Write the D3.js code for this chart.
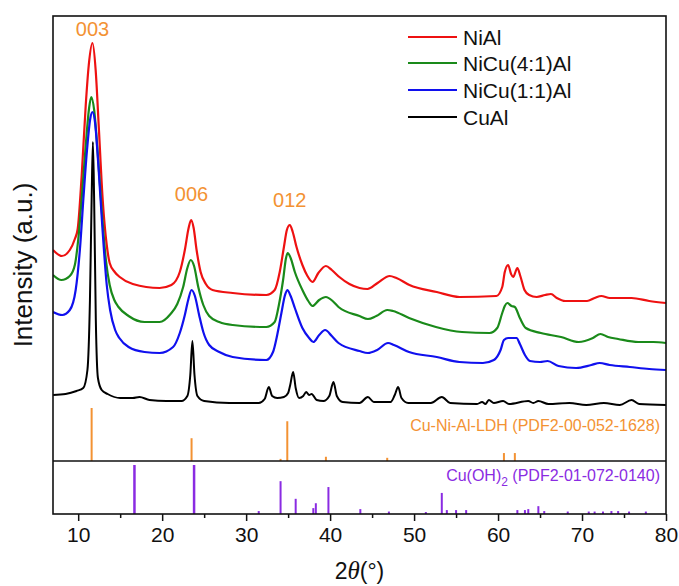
<!DOCTYPE html>
<html>
<head>
<meta charset="utf-8">
<script src="https://cdn.jsdelivr.net/npm/d3@7"></script>
<style>
  html, body { margin: 0; padding: 0; background: #fff; }
  svg { display: block; font-family: Arial, "Liberation Sans", Helvetica, sans-serif; }
</style>
</head>
<body>
<svg id="chart" width="679" height="586"></svg>
<script>
// ---------- DATA (2θ in degrees, intensity in arbitrary units) ----------
const seriesNames = ["NiAl", "NiCu(4:1)Al", "NiCu(1:1)Al", "CuAl"];

const niAl = [
  [7.0,211],[8.04,205],[9.0,211],[9.6,222],[9.94,232],[10.42,286],[10.9,356],[11.26,396],[11.7,418],
  [12.08,391],[12.44,336],[12.92,261],[13.4,216],[13.75,198],[14.35,189],[14.95,184],[16.5,177],
  [19.7,173],[21.1,176],[22.1,189],[22.7,211],[23.15,233],[23.45,241],[23.75,233],[24.1,211],
  [24.58,189],[25.2,177],[26.0,171],[28.4,168],[32.4,166],[33.4,171],[34.0,189],[34.5,214],
  [34.85,231],[35.2,236],[35.55,229],[36.0,214],[36.7,196],[37.3,185],[37.9,179],[38.6,188],
  [39.5,195],[40.2,191],[41.1,184],[42.3,177],[43.5,173],[44.45,172],[45.65,178],[47.1,185],
  [47.9,183],[49.45,176],[52.7,169],[55.4,164],[59.8,165],[60.5,174],[60.8,189],[61.2,196],
  [61.55,187],[61.8,184],[62.3,193],[62.65,185],[63.15,171],[63.7,166],[64.6,164],[65.6,166],
  [66.3,167],[67.0,163],[68.0,160],[70.6,160],[71.5,163],[72.3,165],[73.3,163],[75.9,163],
  [78.0,160],[80.0,158]
];

const niCu41Al = [
  [7.0,186],[8.0,181],[9.0,185],[9.6,196],[10.0,221],[10.45,266],[10.9,316],[11.3,353],[11.55,364],
  [11.9,351],[12.3,311],[12.8,251],[13.3,201],[13.75,176],[14.3,161],[14.8,154],[16.0,145],
  [17.9,139],[19.7,139],[21.0,147],[21.8,157],[22.5,174],[23.0,193],[23.4,201],[23.8,195],
  [24.3,174],[24.9,156],[25.6,145],[26.8,139],[28.4,136],[32.4,134],[33.4,139],[33.9,156],
  [34.4,181],[34.75,203],[34.95,208],[35.3,203],[35.8,189],[36.7,171],[37.4,160],[37.9,155],
  [38.7,161],[39.5,164],[40.3,160],[41.0,154],[43.5,145],[44.5,142],[45.5,145],[46.8,151],
  [47.5,150],[49.4,143],[52.6,134],[55.7,129],[59.0,128],[59.9,133],[60.5,148],[60.8,155],
  [61.1,158],[61.6,155],[62.0,154],[62.6,143],[63.3,133],[65.1,128],[67.5,124],[69.6,119],
  [71.3,123],[72.2,127],[73.1,124],[74.3,122],[76.7,119],[78.5,119],[80.0,118]
];

const niCu11Al = [
  [7.0,149],[8.1,146],[9.0,151],[9.7,171],[10.2,211],[10.65,266],[11.05,311],[11.45,343],[11.7,349],
  [12.0,339],[12.4,296],[12.9,231],[13.4,176],[13.8,151],[14.4,131],[14.9,123],[16.0,114],
  [17.9,109],[19.7,108],[21.3,114],[22.1,128],[22.7,146],[23.1,161],[23.5,171],[23.9,165],
  [24.4,146],[24.9,129],[25.6,116],[26.8,109],[28.4,104],[32.4,101],[33.2,109],[33.7,126],
  [34.2,148],[34.6,165],[34.9,171],[35.3,165],[35.8,153],[36.7,133],[37.5,123],[38.0,119],
  [38.7,126],[39.4,131],[40.2,125],[41.0,118],[43.5,110],[44.5,108],[45.6,111],[46.9,118],
  [47.6,116],[49.4,109],[52.7,104],[55.4,99],[58.2,98],[59.5,101],[60.3,111],[60.7,121],
  [61.2,123],[62.2,123],[62.6,117],[63.2,106],[63.8,100],[65.0,99],[65.9,100],[67.2,95],
  [69.3,93],[71.1,96],[72.1,98],[73.3,96],[75.7,94],[78.0,92],[80.0,91]
];

const cuAl = [
  [7.0,66],[8.5,67],[9.8,70],[10.6,73],[11.1,91],[11.4,161],[11.6,261],[11.75,319],[11.9,261],
  [12.1,141],[12.35,83],[12.8,71],[13.5,67],[15.0,63],[16.5,63],[17.3,64],[18.5,61],[20.5,60],
  [22.3,60],[23.0,65],[23.35,86],[23.6,120],[23.85,86],[24.2,65],[25.0,60],[28.0,58],[31.5,58],
  [32.2,62],[32.7,74],[33.1,65],[33.7,63],[34.5,64],[35.0,68],[35.25,76],[35.6,89],[35.9,73],
  [36.3,63],[36.8,65],[37.15,69],[37.5,66],[37.8,67],[38.4,61],[39.2,60],[39.9,65],[40.4,79],
  [40.8,65],[41.5,59],[43.5,58],[44.5,64],[45.2,59],[47.2,59],[47.7,66],[48.1,74],[48.5,63],
  [49.3,58],[52.0,58],[53.3,64],[54.3,58],[57.5,57],[58.1,59],[58.5,57],[58.9,61],[59.5,58],
  [60.6,60],[61.3,57],[63.6,60],[64.2,58],[64.8,60],[66.0,57],[68.5,58],[70.5,56],[72.6,58],
  [74.5,56],[75.9,61],[76.8,57],[80.0,56]
];

// Reference patterns: [2θ, relative intensity]
const ldhRef = [[11.6,100],[23.5,43],[34.1,4],[34.9,75],[39.5,8],[46.8,6],[60.7,15],[62.0,15]];
const cuOH2Ref = [
  [16.7,100],[23.8,100],[31.5,6],[34.1,67],[35.9,31],[38.0,12],[38.3,22],[39.8,55],[43.6,10],
  [47.0,5],[51.4,4],[53.3,43],[53.9,8],[55.0,8],[56.2,8],[62.3,8],[63.2,8],[63.6,10],[64.8,16],
  [65.5,6],[68.3,5],[70.8,5],[71.5,5],[72.5,5],[73.5,6],[74.3,6],[75.6,5],[77.6,5]
];

// peak labels: text, 2θ, intensity position of label baseline
const peakLabels = [["003",11.7,425],["006",23.5,260],["012",35.2,254]];
const xTicks = [10,20,30,40,50,60,70,80];
const xMinorTicks = [15,25,35,45,55,65,75];

// ---------- LAYOUT ----------
const L = 53, R = 666, T = 16, SEP = 461, B = 514;
const colors = ["#ee1111", "#1a8a1a", "#1010ee", "#000000"];
const orange = "#f39233", purple = "#8a2be2";

const svg = d3.select("#chart");
const x = d3.scaleLinear().domain([7, 80]).range([L, R]);
const y = d3.scaleLinear().domain([0, 445]).range([SEP, T]);
const yLdh = d3.scaleLinear().domain([0, 100]).range([SEP, SEP - 53]);
const yCu = d3.scaleLinear().domain([0, 100]).range([B, B - 49]);

svg.append("clipPath").attr("id", "clip").append("rect")
  .attr("x", L).attr("y", T).attr("width", R - L).attr("height", SEP - T);

const line = d3.line().x(d => x(d[0])).y(d => y(d[1])).curve(d3.curveMonotoneX);
const allSeries = [niAl, niCu41Al, niCu11Al, cuAl];

const g = svg.append("g").attr("clip-path", "url(#clip)");
allSeries.forEach((s, i) => {
  g.append("path").datum(s)
    .attr("d", line).attr("fill", "none")
    .attr("stroke", colors[i]).attr("stroke-width", i === 3 ? 2 : 2.2)
    .attr("stroke-linejoin", "round");
});

// reference sticks
svg.append("g").selectAll("line").data(ldhRef).join("line")
  .attr("x1", d => x(d[0])).attr("x2", d => x(d[0]))
  .attr("y1", yLdh(0)).attr("y2", d => yLdh(d[1]))
  .attr("stroke", orange).attr("stroke-width", 2);

svg.append("g").selectAll("line").data(cuOH2Ref).join("line")
  .attr("x1", d => x(d[0])).attr("x2", d => x(d[0]))
  .attr("y1", yCu(0)).attr("y2", d => yCu(d[1]))
  .attr("stroke", purple).attr("stroke-width", d => d[1] >= 100 ? 2.5 : 2);

// reference labels
svg.append("text").attr("x", 660).attr("y", 431).attr("text-anchor", "end")
  .attr("font-size", 16).attr("fill", orange).text("Cu-Ni-Al-LDH (PDF2-00-052-1628)");
const cuLab = svg.append("text").attr("x", 660).attr("y", 481).attr("text-anchor", "end")
  .attr("font-size", 16).attr("fill", purple);
cuLab.append("tspan").text("Cu(OH)");
cuLab.append("tspan").attr("font-size", 12).attr("dy", 5).text("2");
cuLab.append("tspan").attr("dy", -5).text(" (PDF2-01-072-0140)");

// peak labels
svg.append("g").selectAll("text").data(peakLabels).join("text")
  .attr("x", d => x(d[1])).attr("y", d => y(d[2]))
  .attr("text-anchor", "middle").attr("font-size", 20).attr("fill", orange)
  .text(d => d[0]);

// frame
svg.append("rect").attr("x", L).attr("y", T).attr("width", R - L).attr("height", B - T)
  .attr("fill", "none").attr("stroke", "#111").attr("stroke-width", 1.6);
svg.append("line").attr("x1", L).attr("x2", R).attr("y1", SEP).attr("y2", SEP)
  .attr("stroke", "#111").attr("stroke-width", 1.4);

// x axis
const xAxis = d3.axisBottom(x).tickValues(xTicks).tickSize(7).tickPadding(6).tickFormat(d3.format("d"));
const ax = svg.append("g").attr("transform", `translate(0,${B})`).call(xAxis);
ax.select(".domain").remove();
ax.selectAll(".tick line").attr("stroke", "#111").attr("stroke-width", 1.5);
ax.selectAll(".tick text").attr("font-size", 21).attr("fill", "#111")
  .attr("font-family", "Arial, 'Liberation Sans', sans-serif");
const axMinor = d3.axisBottom(x).tickValues(xMinorTicks).tickSize(4).tickFormat("");
const axm = svg.append("g").attr("transform", `translate(0,${B})`).call(axMinor);
axm.select(".domain").remove();
axm.selectAll(".tick line").attr("stroke", "#111").attr("stroke-width", 1.5);

// axis titles
const xt = svg.append("text").attr("x", (L + R) / 2).attr("y", 579).attr("text-anchor", "middle")
  .attr("font-size", 23).attr("fill", "#111");
xt.append("tspan").text("2");
xt.append("tspan").attr("font-style", "italic").attr("font-family", "'Liberation Serif', serif").attr("font-size", 25).text("θ");
xt.append("tspan").text("(°)");

svg.append("text").attr("transform", `translate(32,${(180 + 350) / 2}) rotate(-90)`)
  .attr("text-anchor", "middle").attr("font-size", 26).attr("fill", "#111")
  .text("Intensity (a.u.)");

// legend
const leg = svg.append("g");
const legY = [37, 63, 90, 117];
seriesNames.forEach((n, i) => {
  leg.append("line").attr("x1", 408).attr("x2", 457).attr("y1", legY[i]).attr("y2", legY[i])
    .attr("stroke", colors[i]).attr("stroke-width", 2.2);
  leg.append("text").attr("x", 463).attr("y", legY[i]).attr("dy", "0.36em")
    .attr("font-size", 21).attr("fill", "#111").text(n);
});
</script>
</body>
</html>
